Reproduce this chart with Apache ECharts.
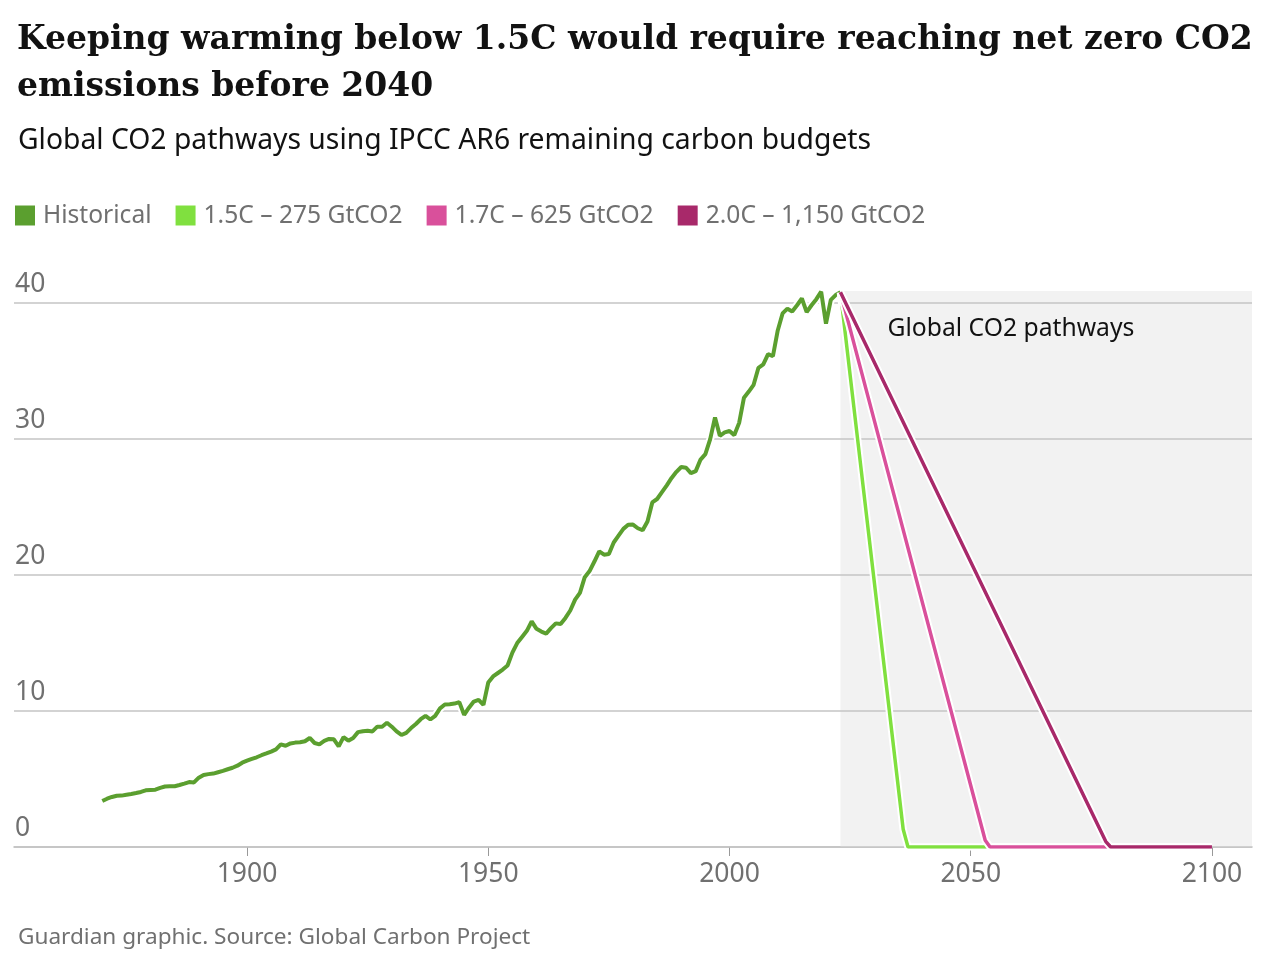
<!DOCTYPE html>
<html style="height: 100%">
<head>
<meta charset="utf-8">
</head>
<body style="height: 100%; margin: 0; background: #fff">
<div id="container" style="width: 1274px; height: 962px"></div>
<script src="https://cdn.jsdelivr.net/npm/echarts@6/dist/echarts.min.js"></script>
<script type="text/javascript">
// historical emissions, GtCO2 per year (1870-2023)
var histStart = 1870;
var histValues = [
  3.38, 3.55, 3.68, 3.77, 3.78, 3.84, 3.90, 3.97, 4.05, 4.17,
  4.20, 4.22, 4.35, 4.45, 4.46, 4.47, 4.56, 4.66, 4.78, 4.75,
  5.10, 5.30, 5.36, 5.40, 5.50, 5.60, 5.72, 5.83, 5.98, 6.20,
  6.35, 6.48, 6.60, 6.75, 6.88, 7.02, 7.18, 7.55, 7.45, 7.62,
  7.68, 7.70, 7.78, 8.02, 7.65, 7.55, 7.80, 7.95, 7.92, 7.40,
  8.08, 7.82, 8.02, 8.45, 8.52, 8.55, 8.50, 8.85, 8.85, 9.14,
  8.85, 8.50, 8.24, 8.40, 8.75, 9.05, 9.40, 9.65, 9.38, 9.65,
  10.20, 10.48, 10.50, 10.55, 10.66, 9.72, 10.25, 10.70, 10.82, 10.45,
  12.10, 12.55, 12.80, 13.05, 13.35, 14.30, 15.00, 15.45, 15.90, 16.60,
  16.05, 15.85, 15.70, 16.10, 16.45, 16.40, 16.85, 17.40, 18.20, 18.70,
  19.85, 20.30, 21.00, 21.75, 21.50, 21.55, 22.40, 22.90, 23.40, 23.70,
  23.72, 23.45, 23.30, 23.95, 25.35, 25.60, 26.10, 26.60, 27.15, 27.60,
  27.95, 27.90, 27.50, 27.65, 28.50, 28.90, 30.00, 31.60, 30.25, 30.50,
  30.60, 30.30, 31.20, 33.05, 33.50, 34.00, 35.25, 35.50, 36.25, 36.10,
  38.00, 39.25, 39.60, 39.40, 39.85, 40.35, 39.35, 39.85, 40.30, 40.85,
  38.50, 40.25, 40.60, 40.80
];
// pathway break points [year, GtCO2]
var path15 = [[2023, 40.8], [2036, 1.3], [2037, 0], [2100, 0]];
var path17 = [[2023, 40.8], [2053, 0.5], [2054, 0], [2100, 0]];
var path20 = [[2023, 40.8], [2078, 0.4], [2079, 0], [2100, 0]];
var tickYears = [1900, 1950, 2000, 2050, 2100];
var seriesNames = ['Historical', '1.5C – 275 GtCO2', '1.7C – 625 GtCO2', '2.0C – 1,150 GtCO2'];
var seriesColors = ['#5b9f2f', '#80e03f', '#d9509b', '#a8296a'];

var hist = histValues.map(function (v, i) { return [histStart + i, v]; });

var sans = '"Noto Sans", Roboto, sans-serif';

function halo(data, w) {
  return {
    type: 'line', data: data, symbol: 'none', silent: true,
    lineStyle: { color: '#ffffff', width: w }
  };
}
function line(name, data, color, w) {
  return {
    name: name, type: 'line', data: data, symbol: 'none',
    itemStyle: { color: color },
    lineStyle: { color: color, width: w }
  };
}

var chart = echarts.init(document.getElementById('container'));
var option = {
  animation: false,
  title: [
    {
      text: 'Keeping warming below 1.5C would require reaching net zero CO2\nemissions before 2040',
      left: 12, top: 12,
      textStyle: { fontFamily: '"DejaVu Serif", serif', fontWeight: 'bold', fontSize: 33, lineHeight: 47, color: '#121212' }
    },
    {
      text: 'Global CO2 pathways using IPCC AR6 remaining carbon budgets',
      left: 13, top: 122,
      textStyle: { fontFamily: sans, fontWeight: 'normal', fontSize: 28.3, color: '#121212' }
    },
    {
      text: 'Guardian graphic. Source: Global Carbon Project',
      left: 13, top: 921,
      textStyle: { fontFamily: sans, fontWeight: 'normal', fontSize: 22.6, color: '#707070' }
    }
  ],
  legend: {
    data: seriesNames,
    left: 15, top: 203, padding: 0,
    icon: 'rect', itemWidth: 20, itemHeight: 20, itemGap: 24,
    textStyle: { fontFamily: sans, fontSize: 24.6, color: '#707070', padding: [0, 0, 0, 3] }
  },
  grid: { left: 14, right: 22, top: 291, bottom: 115 },
  xAxis: {
    type: 'value', min: 1851.7, max: 2108.3,
    axisLine: { show: true, lineStyle: { color: '#b8b8b8', width: 1.5 } },
    axisTick: { show: true, customValues: tickYears, length: 9, lineStyle: { color: '#999' } },
    axisLabel: {
      customValues: tickYears, fontFamily: sans, fontSize: 26.5, color: '#707070', margin: 14,
      formatter: function (v) { return String(v); }
    },
    splitLine: { show: false }
  },
  yAxis: {
    type: 'value', min: 0, max: 40.9, interval: 10, z: 1.5,
    axisLine: { show: false }, axisTick: { show: false },
    axisLabel: {
      inside: true, margin: 1, verticalAlign: 'bottom', showMaxLabel: false,
      fontFamily: sans, fontSize: 26.5, color: '#707070', padding: [0, 0, 5, 0]
    },
    splitLine: { showMaxLine: false, lineStyle: { color: '#c4c4c4', width: 1.5 } }
  },
  series: [
    {
      type: 'line', data: hist, symbol: 'none', silent: true, z: -1,
      lineStyle: { opacity: 0 },
      markArea: {
        silent: true, z: 1,
        itemStyle: { color: '#f2f2f2' },
        label: {
          show: true, position: [47, 25], align: 'left', verticalAlign: 'top',
          fontFamily: sans, fontSize: 24.7, color: '#121212'
        },
        data: [[{ name: 'Global CO2 pathways', xAxis: 2023, yAxis: 0 }, { xAxis: 2108.3, yAxis: 40.9 }]]
      }
    },
    halo(hist, 8),
    line(seriesNames[0], hist, seriesColors[0], 4),
    halo(path15, 7.5),
    line(seriesNames[1], path15, seriesColors[1], 3.5),
    halo(path17, 7.5),
    line(seriesNames[2], path17, seriesColors[2], 3.5),
    halo(path20, 7.5),
    line(seriesNames[3], path20, seriesColors[3], 3.5)
  ]
};
chart.setOption(option);
</script>
</body>
</html>
